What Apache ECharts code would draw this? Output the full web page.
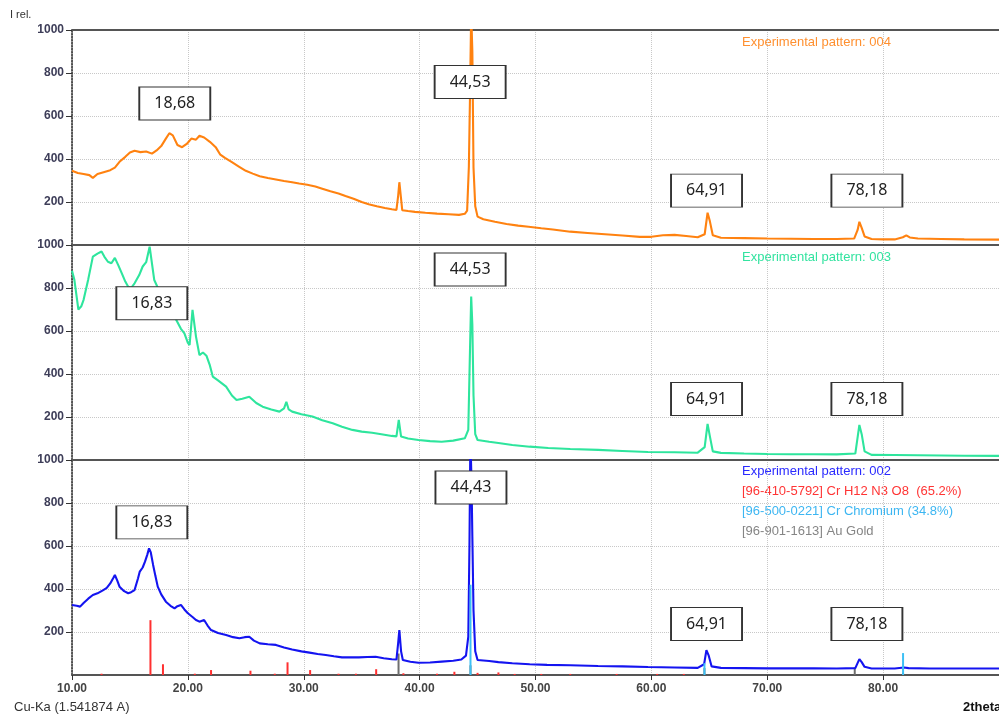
<!DOCTYPE html>
<html>
<head>
<meta charset="utf-8">
<script src="https://cdn.jsdelivr.net/npm/echarts@6/dist/echarts.min.js"></script>
<style>
  html, body { margin: 0; padding: 0; background: #fff; }
  #chart { width: 999px; height: 716px; }
</style>
</head>
<body>
<div id="chart"></div>
<script>
// 2theta / intensity pairs
const pattern004 = [
  [10,345],[10.5,335],[11,330],[11.5,325],[11.8,312],[12.2,330],[12.8,340],[13.3,348],[13.7,360],[14.1,387],
  [14.6,410],[15.0,430],[15.4,438],[15.9,432],[16.4,435],[16.9,425],[17.3,440],[17.7,460],[18.1,495],[18.4,520],
  [18.7,510],[19.1,465],[19.5,455],[19.9,470],[20.3,495],[20.7,490],[21.0,508],[21.4,500],[21.9,480],[22.4,455],
  [22.8,420],[23.2,405],[23.8,385],[24.4,365],[25.0,345],[25.6,332],[26.2,320],[26.9,312],[27.6,305],[28.3,298],
  [29.0,292],[29.6,286],[30.3,280],[31.0,272],[31.6,262],[32.3,250],[33.0,240],[33.6,228],[34.3,215],[35.0,200],
  [35.6,190],[36.3,180],[37.0,172],[37.6,166],[38.0,163],[38.15,230],[38.25,292],[38.35,240],[38.5,162],[39.0,158],
  [39.6,154],[40.5,150],[41.5,146],[42.5,143],[43.4,140],[43.9,145],[44.1,160],[44.25,365],[44.35,700],[44.45,1080],
  [44.55,900],[44.65,360],[44.8,180],[45.0,132],[45.5,120],[46.5,108],[47.5,98],[48.5,90],[49.4,85],[50.5,78],
  [51.5,72],[53.0,62],[54.5,56],[56,50],[57.5,44],[59,38],[60,38],[61,45],[62,47],[63,42],[64,36],[64.6,50],
  [64.85,150],[65.05,110],[65.3,45],[66,34],[68,32],[70,30],[72,29],[74,28],[76,28],[77.5,30],[77.8,70],
  [77.95,108],[78.15,80],[78.4,40],[79,28],[80,26],[81,26],[81.7,36],[82,45],[82.3,35],[83,30],[85,28],[87,26],[90,25]
];
const pattern003 = [
  [10,880],[10.2,840],[10.4,760],[10.55,700],[10.8,715],[11.0,745],[11.4,840],[11.8,946],[12.2,960],[12.55,970],
  [12.8,945],[13.1,922],[13.4,915],[13.7,940],[14.0,905],[14.3,868],[14.6,830],[14.85,806],[15.1,800],[15.4,822],
  [15.8,860],[16.1,900],[16.4,920],[16.7,992],[16.85,1000],[17.1,837],[17.5,790],[18.0,760],[18.5,720],[19.0,651],
  [19.4,610],[19.7,589],[20.0,545],[20.15,535],[20.4,698],[20.7,574],[21.0,488],[21.3,500],[21.6,485],[21.9,440],
  [22.15,388],[22.6,370],[23.3,341],[23.8,300],[24.2,279],[24.7,285],[25.3,294],[25.9,265],[26.45,248],[27.2,235],
  [27.9,225],[28.3,240],[28.5,271],[28.7,235],[29.0,225],[29.8,213],[30.75,202],[31.6,185],[32.5,171],[33.3,155],
  [34.2,140],[35.0,132],[35.9,127],[36.7,120],[37.6,112],[38.0,110],[38.2,186],[38.4,109],[39.0,100],[39.9,93],
  [40.9,88],[41.9,85],[42.9,90],[43.9,101],[44.2,140],[44.35,520],[44.45,760],[44.55,628],[44.65,300],[44.8,120],
  [45.0,93],[46,85],[46.8,79],[48,70],[49.5,62],[51.1,56],[53,51],[55.4,47],[57.5,42],[59.7,37],[62,36],[64,34],
  [64.6,60],[64.85,168],[65.05,110],[65.3,40],[66,33],[68,30],[70,28],[72,27],[74,27],[76,26],[77.6,30],
  [77.95,163],[78.15,120],[78.4,40],[79,24],[81,23],[83,22],[85,21],[87,20],[90,19]
];
const pattern002 = [
  [10,326],[10.4,322],[10.7,318],[11.0,335],[11.4,355],[11.8,372],[12.2,380],[12.7,395],[13.0,405],[13.3,426],
  [13.55,450],[13.7,465],[13.9,440],[14.1,411],[14.5,390],[14.85,380],[15.1,385],[15.4,395],[15.7,450],[15.85,481],
  [16.1,500],[16.3,527],[16.5,560],[16.65,589],[16.8,570],[17.0,512],[17.2,460],[17.4,411],[17.7,375],[18.1,341],
  [18.5,322],[18.85,310],[19.1,320],[19.4,326],[19.7,305],[20.0,287],[20.4,270],[20.7,256],[21.0,248],[21.4,256],
  [21.7,230],[22.0,209],[22.6,195],[23.3,186],[23.9,176],[24.45,171],[24.9,176],[25.3,178],[25.7,160],[26.2,147],
  [26.9,143],[27.6,140],[28.3,128],[29.0,119],[29.8,110],[30.5,104],[31.2,98],[31.9,93],[32.6,87],[33.3,82],
  [34.0,82],[34.75,82],[35.5,84],[36.2,85],[36.9,78],[37.6,73],[38.0,72],[38.15,150],[38.25,209],[38.4,110],
  [38.55,70],[39.2,62],[39.9,57],[40.9,58],[41.9,62],[42.9,66],[43.6,72],[44.0,90],[44.2,178],[44.3,600],
  [44.38,1100],[44.48,900],[44.55,643],[44.65,300],[44.8,110],[45.0,70],[46,65],[46.8,60],[48,55],[49.5,50],
  [51,47],[53,45],[55.4,42],[57.5,40],[59.7,37],[62,35],[64,33],[64.55,50],[64.75,116],[64.95,90],[65.2,40],
  [66,33],[68,32],[70,31],[72,31],[74,31],[76,30],[77.6,32],[77.95,74],[78.15,60],[78.4,38],[79,30],[81,30],
  [81.8,35],[82.2,32],[84,30],[87,30],[90,30]
];

// reference sticks (2theta, height)
const sticksCrH12N3O8 = [
  [12.55,6],[16.77,255],[17.85,50],[20.6,6],[22.0,23],[25.4,20],[27.5,6],[28.6,59],[30.55,23],[33.0,6],
  [34.5,6],[36.25,27],[38.6,8],[41.5,6],[43.0,15],[45.0,10],[46.8,12],[48.2,5],[50.5,5],[53.0,5],[57,5],[60.5,5],[62.8,5]
];
const sticksCr = [[44.39,420],[64.58,55],[81.72,102]];
const sticksAu = [[38.18,100],[44.39,45],[64.58,32],[77.55,35],[81.72,10]];

// peak boxes: [2theta, intensity, text]
const boxes004 = [[18.87,658,'18,68'],[44.36,758,'44,53'],[64.76,253,'64,91'],[78.6,253,'78,18']];
const boxes003 = [[16.89,729,'16,83'],[44.36,886,'44,53'],[64.76,284,'64,91'],[78.6,284,'78,18']];
const boxes002 = [[16.89,710,'16,83'],[44.43,872,'44,43'],[64.76,237,'64,91'],[78.6,237,'78,18']];

const panelTops = [30, 245, 460];
const panelHeight = 215;
const font = "'Liberation Sans', Arial, sans-serif";

const chart = echarts.init(document.getElementById('chart'));

const grids = panelTops.map(t => ({ left: 72, right: -2, top: t, height: panelHeight }));

const xAxes = panelTops.map((_, i) => ({
  type: 'value', gridIndex: i, min: 10, max: 90, interval: 10,
  axisLine: { show: true, onZero: false, lineStyle: { color: '#555', width: 2 } },
  axisTick: { show: i === 2, length: 5, lineStyle: { color: '#333' } },
  axisLabel: {
    show: i === 2, showMaxLabel: false, margin: 8,
    formatter: v => v.toFixed(2),
    color: '#444', fontWeight: 'bold', fontSize: 12, fontFamily: font
  },
  splitLine: { show: true, lineStyle: { type: 'dotted', color: '#c8c8c8' } }
}));
xAxes.push({
  type: 'value', gridIndex: 0, position: 'top', min: 10, max: 90,
  axisLine: { show: true, onZero: false, lineStyle: { color: '#555', width: 2 } },
  axisTick: { show: false }, axisLabel: { show: false }, splitLine: { show: false }
});

const yAxes = panelTops.map((_, i) => ({
  type: 'value', gridIndex: i, min: 0, max: 1000, interval: 200,
  axisLine: { show: true, onZero: false, lineStyle: { color: '#222', type: 'dotted', width: 1.5 } },
  axisTick: { show: true, length: 6, lineStyle: { color: '#333' } },
  axisLabel: {
    showMinLabel: false, margin: 8, formatter: v => String(v),
    color: '#3d3d58', fontWeight: 'bold', fontSize: 12, fontFamily: font
  },
  splitLine: { show: true, lineStyle: { type: 'dotted', color: '#c8c8c8' } }
}));

function boxPoints(list) {
  return {
    symbol: 'rect', symbolSize: [71, 33], silent: true,
    itemStyle: { color: '#fff', borderColor: '#333', borderWidth: 1.3 },
    label: {
      show: true, position: 'inside', formatter: p => p.name,
      color: '#222', fontSize: 16, fontFamily: "'Noto Sans', sans-serif"
    },
    data: list.map(b => ({ name: b[2], coord: [b[0], b[1]] }))
  };
}

function patternSeries(data, idx, color, list) {
  return {
    type: 'line', xAxisIndex: idx, yAxisIndex: idx, data: data,
    showSymbol: false, symbol: 'none', clip: true, z: 2,
    lineStyle: { color: color, width: 2.1 },
    markPoint: boxPoints(list)
  };
}

function stickSeries(data, color, z) {
  return {
    type: 'custom', xAxisIndex: 2, yAxisIndex: 2, data: data, z: z,
    encode: { x: 0, y: 1 },
    renderItem: (params, api) => {
      const x = api.value(0);
      const p0 = api.coord([x, 0]);
      const p1 = api.coord([x, api.value(1)]);
      return {
        type: 'line',
        shape: { x1: p0[0], y1: p0[1], x2: p1[0], y2: p1[1] },
        style: { stroke: color, lineWidth: 2 }
      };
    }
  };
}

function legendText(text, top, color) {
  return {
    type: 'text', left: 742, top: top,
    style: { text: text, fill: color, fontSize: 13, fontFamily: font }
  };
}

chart.setOption({
  animation: false,
  backgroundColor: '#fff',
  grid: grids,
  xAxis: xAxes,
  yAxis: yAxes,
  series: [
    patternSeries(pattern004, 0, '#ff8210', boxes004),
    patternSeries(pattern003, 1, '#2ee59d', boxes003),
    stickSeries(sticksAu, '#6e6e6e', 1),
    stickSeries(sticksCrH12N3O8, '#ff3030', 1),
    patternSeries(pattern002, 2, '#1414f0', boxes002),
    stickSeries(sticksCr, '#3cc0f5', 3)
  ],
  graphic: [
    { type: 'text', left: 10, top: 9, style: { text: 'I rel.', fill: '#333', fontSize: 11, fontFamily: font } },
    { type: 'text', left: 14, top: 701, style: { text: 'Cu-Ka (1.541874 A)', fill: '#333', fontSize: 13, fontFamily: font } },
    { type: 'text', left: 963, top: 701, style: { text: '2theta', fill: '#111', fontSize: 13, fontWeight: 'bold', fontFamily: font } },
    legendText('Experimental pattern: 004', 36, '#ff9030'),
    legendText('Experimental pattern: 003', 251, '#33e3a0'),
    legendText('Experimental pattern: 002', 465, '#2a2aff'),
    legendText('[96-410-5792] Cr H12 N3 O8  (65.2%)', 485, '#ff3434'),
    legendText('[96-500-0221] Cr Chromium (34.8%)', 505, '#3cb6f2'),
    legendText('[96-901-1613] Au Gold', 525, '#858585')
  ]
});
</script>
</body>
</html>
